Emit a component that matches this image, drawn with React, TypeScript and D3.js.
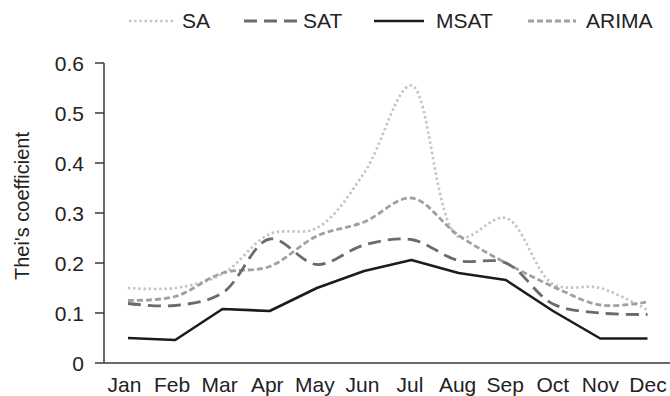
import React from "react";
import * as d3 from "d3";

const months = ["Jan", "Feb", "Mar", "Apr", "May", "Jun", "Jul", "Aug", "Sep", "Oct", "Nov", "Dec"];
const yTicks = [0, 0.1, 0.2, 0.3, 0.4, 0.5, 0.6];
const saValues = [0.15, 0.15, 0.178, 0.258, 0.27, 0.38, 0.555, 0.252, 0.29, 0.158, 0.15, 0.106];
const satValues = [0.119, 0.115, 0.14, 0.248, 0.197, 0.236, 0.247, 0.205, 0.2, 0.118, 0.1, 0.097];
const msatValues = [0.05, 0.046, 0.108, 0.104, 0.15, 0.184, 0.206, 0.18, 0.166, 0.104, 0.049, 0.049];
const arimaValues = [0.125, 0.133, 0.18, 0.193, 0.254, 0.282, 0.33, 0.255, 0.2, 0.153, 0.116, 0.122];

const seriesNames = ["SA", "SAT", "MSAT", "ARIMA"];

const W = 670;
const H = 396;
const FONT = "'Liberation Sans', Arial, Helvetica, sans-serif";

export default function App() {
  const x = d3.scalePoint<string>().domain(months).range([128, 647.5]);
  const xLabel = d3.scalePoint<string>().domain(months).range([124.5, 648]);
  const y = d3.scaleLinear().domain([0, 0.6]).range([363, 63]);

  const styles: Record<string, { color: string; dash: string; width: number; curve: any }> = {
    SA: { color: "#c4c4c4", dash: "2.4 2.8", width: 2.7, curve: d3.curveCatmullRom.alpha(0.5) },
    SAT: { color: "#6b6b6b", dash: "13 7", width: 2.8, curve: d3.curveCatmullRom.alpha(0.5) },
    MSAT: { color: "#1c1c1c", dash: "none", width: 2.6, curve: d3.curveLinear },
    ARIMA: { color: "#a0a0a0", dash: "6 3", width: 2.8, curve: d3.curveCatmullRom.alpha(0.5) },
  };
  const dataBy: Record<string, number[]> = {
    SA: saValues,
    SAT: satValues,
    MSAT: msatValues,
    ARIMA: arimaValues,
  };

  const legendLine: Record<string, [number, number, number]> = {
    SA: [129, 173, 182],
    SAT: [244, 297, 303],
    MSAT: [374, 424, 436],
    ARIMA: [528, 576, 586],
  };

  const mkLine = (name: string) =>
    d3
      .line<number>()
      .x((_, i) => x(months[i]) as number)
      .y((v) => y(v))
      .curve(styles[name].curve)(dataBy[name]) || "";

  const drawOrder = ["SA", "ARIMA", "SAT", "MSAT"];

  return (
    <svg width={W} height={H} style={{ display: "block", position: "absolute", left: 0, top: 0 }} fontFamily={FONT}>
      <rect width={W} height={H} fill="#ffffff" />
      {seriesNames.map((n) => {
        const s = styles[n];
        const [x1, x2, tx] = legendLine[n];
        return (
          <g key={n}>
            <line x1={x1} x2={x2} y1={21} y2={21} stroke={s.color} strokeWidth={s.width} strokeDasharray={s.dash} />
            <text x={tx} y={28} fontSize={21} fill="#222">{n}</text>
          </g>
        );
      })}
      <line x1={104} x2={104} y1={y(0.6)} y2={y(0)} stroke="#3a3a3a" strokeWidth={1.5} />
      {yTicks.map((t) => (
        <g key={t}>
          <line x1={95} x2={104} y1={y(t)} y2={y(t)} stroke="#3a3a3a" strokeWidth={1.5} />
          <text x={84} y={y(t)} dy="0.38em" textAnchor="end" fontSize={21} fill="#222">
            {t === 0 ? "0" : d3.format(".1f")(t)}
          </text>
        </g>
      ))}
      <line x1={104} x2={670} y1={y(0)} y2={y(0)} stroke="#3a3a3a" strokeWidth={1.5} />
      {months.map((m) => (
        <text key={m} x={xLabel(m) as number} y={392} textAnchor="middle" fontSize={21} fill="#222">
          {m}
        </text>
      ))}
      <text transform={`translate(29,206) rotate(-90)`} textAnchor="middle" fontSize={20} fill="#222">
        Thei's coefficient
      </text>
      {drawOrder.map((n) => {
        const s = styles[n];
        return (
          <path
            key={n}
            d={mkLine(n)}
            fill="none"
            stroke={s.color}
            strokeWidth={s.width}
            strokeDasharray={s.dash}
            strokeLinejoin="round"
          />
        );
      })}
    </svg>
  );
}
